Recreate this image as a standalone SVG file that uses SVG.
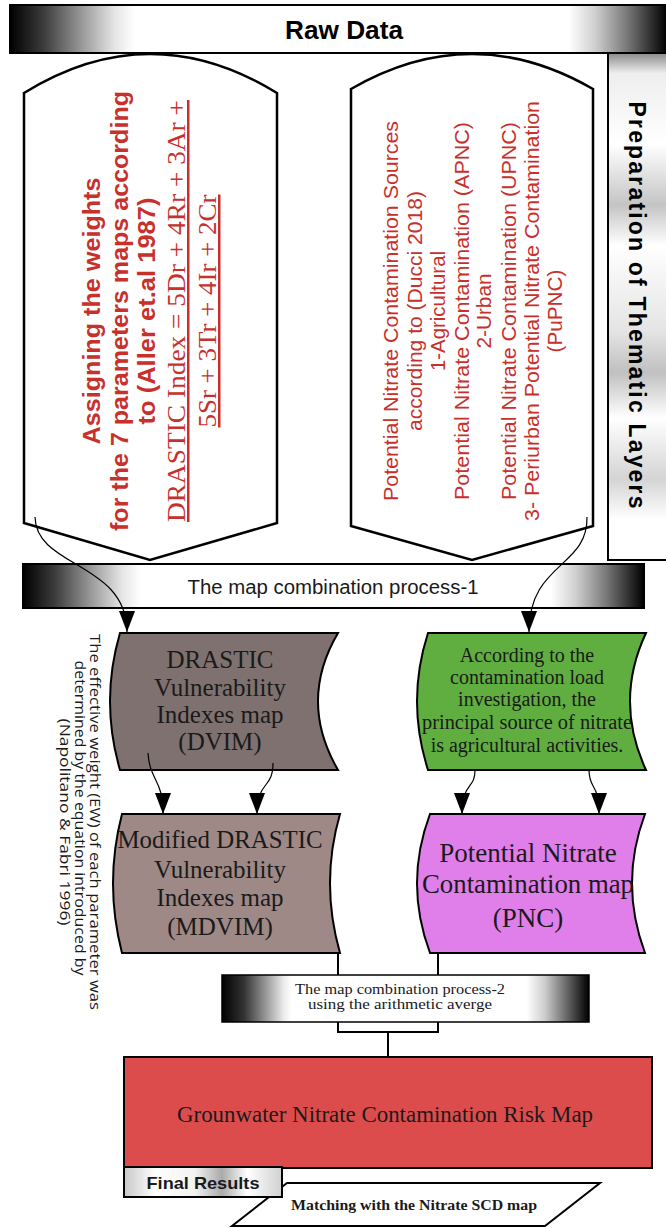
<svg xmlns="http://www.w3.org/2000/svg" width="666" height="1228" viewBox="0 0 666 1228">
<defs>
<linearGradient id="gBand1" x1="0" y1="0" x2="1" y2="0">
<stop offset="0" stop-color="#000"/><stop offset="0.05" stop-color="#3a3a3a"/><stop offset="0.11" stop-color="#9a9a9a"/><stop offset="0.16" stop-color="#e6e6e6"/><stop offset="0.19" stop-color="#fff"/>
<stop offset="0.85" stop-color="#fff"/><stop offset="0.89" stop-color="#d0d0d0"/><stop offset="0.94" stop-color="#777"/><stop offset="1" stop-color="#000"/>
</linearGradient>
<linearGradient id="gBand2" x1="0" y1="0" x2="1" y2="0">
<stop offset="0" stop-color="#000"/><stop offset="0.06" stop-color="#333"/><stop offset="0.12" stop-color="#999"/><stop offset="0.17" stop-color="#eee"/><stop offset="0.19" stop-color="#fff"/>
<stop offset="0.83" stop-color="#fff"/><stop offset="0.88" stop-color="#ccc"/><stop offset="0.94" stop-color="#666"/><stop offset="1" stop-color="#000"/>
</linearGradient>
<linearGradient id="gSilver" x1="0" y1="0" x2="0" y2="1">
<stop offset="0" stop-color="#8a8a8a"/><stop offset="0.04" stop-color="#eee"/><stop offset="0.18" stop-color="#fff"/><stop offset="0.3" stop-color="#c4c4c4"/><stop offset="0.38" stop-color="#fff"/><stop offset="0.55" stop-color="#e4e4e4"/><stop offset="0.63" stop-color="#c0c0c0"/><stop offset="0.72" stop-color="#fff"/><stop offset="0.84" stop-color="#d4d4d4"/><stop offset="0.92" stop-color="#fff"/><stop offset="1" stop-color="#fff"/>
</linearGradient>
<linearGradient id="gMetal" x1="0" y1="0" x2="1" y2="0">
<stop offset="0" stop-color="#c8c8c8"/><stop offset="0.2" stop-color="#fff"/><stop offset="0.45" stop-color="#f2f2f2"/><stop offset="0.62" stop-color="#aaa"/><stop offset="0.78" stop-color="#fff"/><stop offset="1" stop-color="#d0d0d0"/>
</linearGradient>
<marker id="arr" viewBox="0 0 21 16" refX="21" refY="8" markerWidth="21" markerHeight="16" markerUnits="userSpaceOnUse" orient="auto">
<path d="M0,0 L21,8 L0,16 Z" fill="#000"/>
</marker>
<style>
.shape{stroke:#000;stroke-width:2.5;stroke-linejoin:miter}
.box{stroke:#000;stroke-width:2}
.sans{font-family:"Liberation Sans",Arial,sans-serif}
.serif{font-family:"Liberation Serif","Times New Roman",serif}
.note{font-family:"Open Sans","DejaVu Sans",sans-serif}
.red{fill:#c8302c}
.dark{fill:#1a1a1a}
.conn{fill:none;stroke:#000;stroke-width:1.2;marker-end:url(#arr)}
.line{fill:none;stroke:#000;stroke-width:2}
</style>
</defs>

<g id="raw-data">
<rect x="10" y="5" width="657" height="48" fill="url(#gBand1)" class="box"/>
<text x="344" y="39" class="sans" font-size="25" font-weight="bold" text-anchor="middle" textLength="118" lengthAdjust="spacingAndGlyphs">Raw Data</text>
</g>

<g id="thematic-layers">
<rect x="608" y="53" width="70" height="507" fill="url(#gSilver)" class="box"/>
<text transform="translate(629,305) rotate(90)" x="0" y="0" class="sans" font-size="23" font-weight="bold" text-anchor="middle" textLength="407" lengthAdjust="spacing">Preparation of Thematic Layers</text>
</g>

<g id="weights-node">
<path d="M24,93 Q150,15 277,93 L277,523 L150,560 L24,523 Z" fill="#fff" class="shape"/>
<g class="red" text-anchor="middle">
<text transform="translate(100,311) rotate(-90)" class="sans" font-size="24.5" font-weight="bold" textLength="267" lengthAdjust="spacingAndGlyphs">Assigning the weights</text>
<text transform="translate(128,311) rotate(-90)" class="sans" font-size="24.5" font-weight="bold" textLength="440" lengthAdjust="spacingAndGlyphs">for the 7 parameters maps according</text>
<text transform="translate(155,311) rotate(-90)" class="sans" font-size="24.5" font-weight="bold" textLength="227" lengthAdjust="spacingAndGlyphs">to (Aller et.al 1987)</text>
<text transform="translate(185,311) rotate(-90)" class="serif" font-size="25" text-decoration="underline" textLength="422" lengthAdjust="spacingAndGlyphs">DRASTIC Index = 5Dr + 4Rr + 3Ar +</text>
<text transform="translate(216,311) rotate(-90)" class="serif" font-size="25" text-decoration="underline" textLength="233" lengthAdjust="spacingAndGlyphs">5Sr + 3Tr + 4Ir + 2Cr</text>
</g>
</g>

<g id="sources-node">
<path d="M351,89 Q472,19 593,89 L593,526 L472,560 L351,526 Z" fill="#fff" class="shape"/>
<g class="red sans" font-size="21" text-anchor="middle">
<text transform="translate(398,311) rotate(-90)" textLength="380" lengthAdjust="spacingAndGlyphs">Potential Nitrate Contamination Sources</text>
<text transform="translate(421.5,311) rotate(-90)" textLength="240" lengthAdjust="spacingAndGlyphs">according to (Ducci 2018)</text>
<text transform="translate(445,311) rotate(-90)" textLength="120" lengthAdjust="spacingAndGlyphs">1-Agricultural</text>
<text transform="translate(468.5,311) rotate(-90)" textLength="378" lengthAdjust="spacingAndGlyphs">Potential Nitrate Contamination (APNC)</text>
<text transform="translate(491,311) rotate(-90)" textLength="75" lengthAdjust="spacingAndGlyphs">2-Urban</text>
<text transform="translate(515.5,311) rotate(-90)" textLength="378" lengthAdjust="spacingAndGlyphs">Potential Nitrate Contamination (UPNC)</text>
<text transform="translate(539,311) rotate(-90)" textLength="420" lengthAdjust="spacingAndGlyphs">3- Periurban Potential Nitrate Contamination</text>
<text transform="translate(562,311) rotate(-90)" textLength="83" lengthAdjust="spacingAndGlyphs">(PuPNC)</text>
</g>
</g>

<g id="process-1">
<rect x="23" y="564" width="621" height="44" fill="url(#gBand1)" class="box"/>
<text x="333" y="594" class="sans dark" font-size="20" text-anchor="middle" textLength="291" lengthAdjust="spacingAndGlyphs">The map combination process-1</text>
</g>

<g id="ew-note" class="note dark" font-size="15" text-anchor="middle">
<text transform="translate(90,822) rotate(90)" textLength="376" lengthAdjust="spacingAndGlyphs">The effective weight (EW) of each parameter was</text>
<text transform="translate(75,818) rotate(90)" textLength="315" lengthAdjust="spacingAndGlyphs">determined by the equation introduced by</text>
<text transform="translate(60,822) rotate(90)" textLength="207" lengthAdjust="spacingAndGlyphs">(Napolitano &amp; Fabri 1996)</text>
</g>

<g id="dvim">
<path d="M120,633 L338,633 Q298,701 338,770 L120,770 Q100,701 120,633 Z" fill="#7f716f" class="box"/>
<g class="serif dark" font-size="25" text-anchor="middle">
<text x="220" y="668">DRASTIC</text>
<text x="220" y="696">Vulnerability</text>
<text x="220" y="723">Indexes map</text>
<text x="220" y="750">(DVIM)</text>
</g>
</g>

<g id="mdvim">
<path d="M122,814 L340,814 Q320,883 340,953 L122,953 Q104,883 122,814 Z" fill="#9e8986" class="box"/>
<g class="serif dark" font-size="25" text-anchor="middle">
<text x="220" y="848" textLength="205" lengthAdjust="spacingAndGlyphs">Modified DRASTIC</text>
<text x="220" y="878">Vulnerability</text>
<text x="220" y="906">Indexes map</text>
<text x="220" y="935">(MDVIM)</text>
</g>
</g>

<g id="agri-source">
<path d="M428,633 L646,633 Q614,701 646,770 L428,770 Q406,701 428,633 Z" fill="#5fae3f" class="box"/>
<g class="serif dark" font-size="20" text-anchor="middle">
<text x="527" y="662">According to the</text>
<text x="527" y="684">contamination load</text>
<text x="527" y="706">investigation, the</text>
<text x="527" y="729" textLength="210" lengthAdjust="spacingAndGlyphs">principal source of nitrate</text>
<text x="527" y="752">is agricultural activities.</text>
</g>
</g>

<g id="pnc">
<path d="M430,814 L645,814 Q619,883 645,953 L430,953 Q404,883 430,814 Z" fill="#e07fea" class="box"/>
<g class="serif dark" font-size="27" text-anchor="middle">
<text x="528" y="862">Potential Nitrate</text>
<text x="528" y="893" textLength="212" lengthAdjust="spacingAndGlyphs">Contamination map</text>
<text x="528" y="927">(PNC)</text>
</g>
</g>

<g id="process-2">
<rect x="222" y="975" width="367" height="47" fill="url(#gBand2)" stroke="#000" stroke-width="1.5"/>
<g class="serif dark" font-size="15" text-anchor="middle">
<text x="400" y="994" textLength="210" lengthAdjust="spacingAndGlyphs">The map combination process-2</text>
<text x="400" y="1009" textLength="184" lengthAdjust="spacingAndGlyphs">using the arithmetic averge</text>
</g>
</g>

<g id="risk-map">
<rect x="124" y="1057" width="528" height="111" fill="#dd4c4c" class="box"/>
<text x="385" y="1122" class="serif dark" font-size="24" text-anchor="middle" textLength="416" lengthAdjust="spacingAndGlyphs">Grounwater Nitrate Contamination Risk Map</text>
</g>

<g id="matching">
<path d="M287,1183 L600,1183 L545,1226 L232,1226 Z" fill="#fff" class="box"/>
<text x="414" y="1210" class="serif dark" font-size="15" font-weight="bold" text-anchor="middle" textLength="246" lengthAdjust="spacingAndGlyphs">Matching with the Nitrate SCD map</text>
</g>

<g id="final-results">
<rect x="124" y="1167" width="158" height="30" fill="url(#gMetal)" class="box"/>
<text x="203" y="1189" class="sans dark" font-size="17" font-weight="bold" text-anchor="middle" textLength="113" lengthAdjust="spacingAndGlyphs">Final Results</text>
</g>

<g id="connectors">
<path class="conn" d="M35,517 C36,568 127,562 127,632"/>
<path class="conn" d="M587,517 C588,568 529,562 529,632"/>
<path class="conn" d="M148,753 C150,782 163,778 163,814"/>
<path class="conn" d="M273,763 C273,790 257,780 257,814"/>
<path class="conn" d="M475,770 C475,790 462,782 462,814"/>
<path class="conn" d="M589,770 C589,790 599,782 599,814"/>
<path class="line" d="M338,953 V975 M438,953 V975 M338,1022 V1032 H438 V1022 M388,1032 V1057"/>
</g>
</svg>
